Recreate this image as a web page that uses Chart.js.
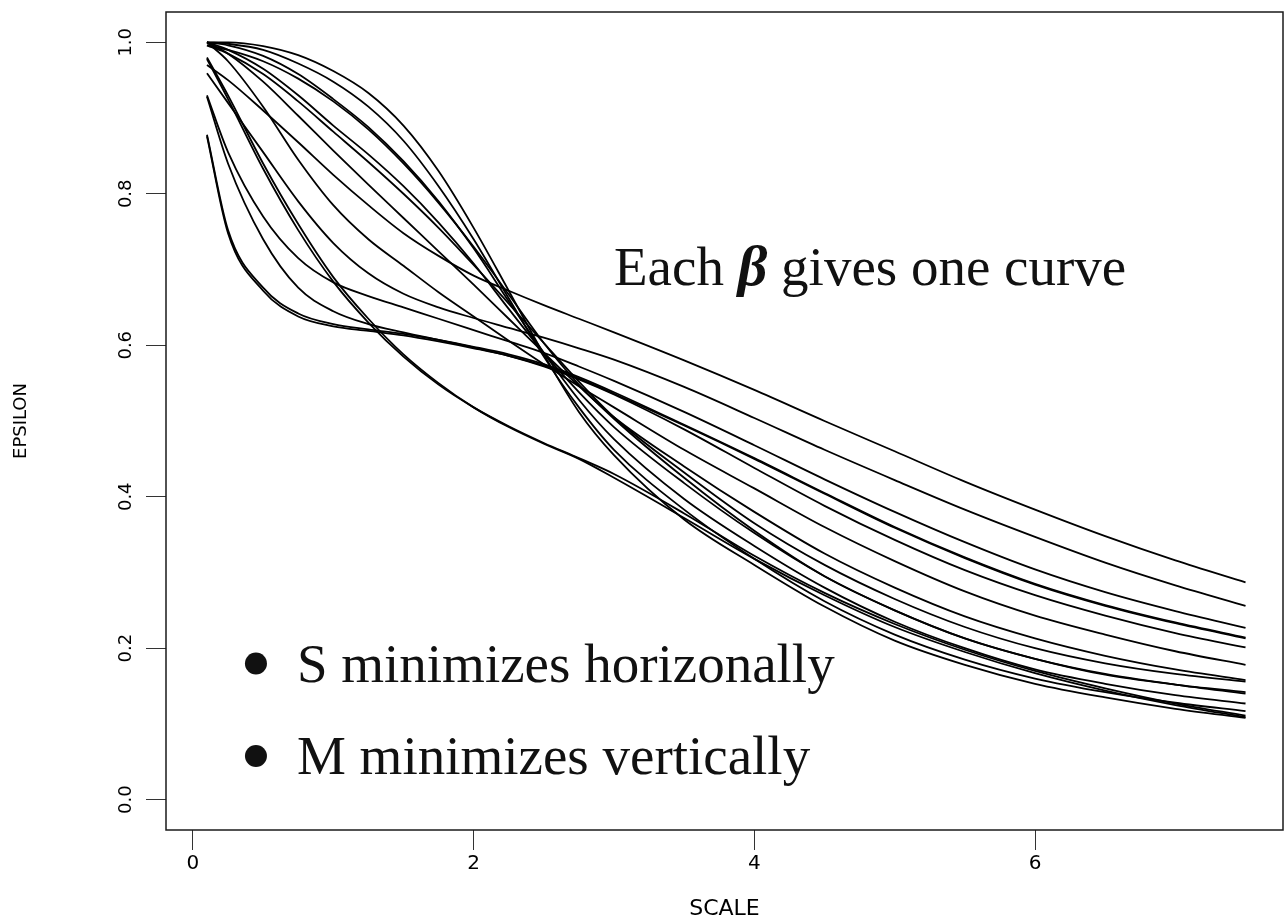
<!DOCTYPE html>
<html>
<head>
<meta charset="utf-8">
<script src="https://cdn.jsdelivr.net/npm/chart.js@4.4.1/dist/chart.umd.min.js"></script>
<style>
  html, body { margin: 0; padding: 0; background: #fff; }
  canvas { display: block; }
</style>
</head>
<body>
<canvas id="epsChart" width="1285" height="923"></canvas>
<script>
// === EPSILON vs SCALE, one curve per beta ===

// scale values where every curve is sampled
var scaleGrid = [0.1, 0.25, 0.5, 0.75, 1, 1.25, 1.5, 1.75, 2, 2.25, 2.5, 2.75, 3, 3.5, 4, 4.5, 5, 5.5, 6, 6.5, 7, 7.5];

// curves that drop early and stay lowest
var epsA1  = [0.980, 0.930, 0.840, 0.760, 0.690, 0.635, 0.588, 0.550, 0.518, 0.492, 0.470, 0.450, 0.425, 0.372, 0.318, 0.270, 0.228, 0.195, 0.167, 0.144, 0.125, 0.109];
var epsA2  = [0.978, 0.925, 0.833, 0.752, 0.684, 0.630, 0.585, 0.548, 0.518, 0.493, 0.471, 0.451, 0.430, 0.378, 0.322, 0.273, 0.232, 0.198, 0.170, 0.147, 0.127, 0.111];
// curves starting near 1 with a shoulder, steep fall around scale 2-3
var epsA3  = [1.000, 0.975, 0.915, 0.845, 0.785, 0.740, 0.705, 0.670, 0.638, 0.606, 0.575, 0.546, 0.518, 0.462, 0.411, 0.360, 0.315, 0.275, 0.243, 0.218, 0.196, 0.178];
var epsA4  = [1.000, 0.985, 0.948, 0.903, 0.857, 0.812, 0.768, 0.724, 0.680, 0.635, 0.590, 0.546, 0.505, 0.440, 0.380, 0.325, 0.280, 0.242, 0.213, 0.190, 0.172, 0.158];
var epsA5  = [0.996, 0.985, 0.958, 0.922, 0.882, 0.842, 0.800, 0.755, 0.706, 0.655, 0.603, 0.552, 0.505, 0.432, 0.365, 0.310, 0.265, 0.228, 0.200, 0.180, 0.166, 0.156];
var epsA6  = [1.000, 0.990, 0.965, 0.930, 0.890, 0.852, 0.810, 0.762, 0.708, 0.648, 0.590, 0.538, 0.492, 0.418, 0.352, 0.295, 0.250, 0.213, 0.186, 0.165, 0.152, 0.142];
var epsA7  = [0.996, 0.990, 0.975, 0.952, 0.922, 0.885, 0.840, 0.788, 0.730, 0.667, 0.603, 0.548, 0.503, 0.425, 0.355, 0.295, 0.250, 0.213, 0.186, 0.166, 0.152, 0.140];
var epsA8  = [1.000, 0.996, 0.982, 0.958, 0.925, 0.888, 0.843, 0.790, 0.728, 0.658, 0.590, 0.528, 0.476, 0.397, 0.335, 0.280, 0.235, 0.200, 0.172, 0.153, 0.138, 0.127];
var epsA9  = [1.000, 0.998, 0.990, 0.972, 0.948, 0.915, 0.870, 0.810, 0.740, 0.662, 0.585, 0.518, 0.462, 0.383, 0.318, 0.262, 0.218, 0.185, 0.160, 0.142, 0.128, 0.117];
var epsA10 = [1.000, 1.000, 0.995, 0.983, 0.962, 0.933, 0.890, 0.830, 0.755, 0.672, 0.588, 0.512, 0.455, 0.370, 0.310, 0.255, 0.210, 0.178, 0.153, 0.135, 0.120, 0.108];
// curves with a plateau near 0.6
var epsB1  = [0.878, 0.752, 0.676, 0.642, 0.628, 0.621, 0.615, 0.607, 0.598, 0.588, 0.575, 0.558, 0.538, 0.495, 0.451, 0.405, 0.360, 0.320, 0.285, 0.257, 0.234, 0.214];
var epsB2  = [0.876, 0.748, 0.672, 0.638, 0.625, 0.619, 0.613, 0.605, 0.596, 0.586, 0.573, 0.556, 0.536, 0.494, 0.450, 0.404, 0.359, 0.319, 0.284, 0.256, 0.233, 0.213];
var epsB3  = [0.930, 0.855, 0.770, 0.715, 0.683, 0.665, 0.650, 0.635, 0.620, 0.605, 0.590, 0.572, 0.553, 0.512, 0.468, 0.423, 0.380, 0.340, 0.304, 0.274, 0.249, 0.227];
var epsB4  = [0.928, 0.840, 0.740, 0.676, 0.645, 0.628, 0.617, 0.607, 0.597, 0.586, 0.572, 0.555, 0.535, 0.489, 0.438, 0.388, 0.343, 0.303, 0.270, 0.243, 0.220, 0.201];
// slow, nearly straight decline, highest tails
var epsC1  = [0.970, 0.950, 0.910, 0.868, 0.825, 0.785, 0.748, 0.718, 0.692, 0.672, 0.653, 0.635, 0.617, 0.580, 0.541, 0.500, 0.460, 0.420, 0.383, 0.348, 0.316, 0.287];
var epsC2  = [0.959, 0.920, 0.855, 0.790, 0.735, 0.695, 0.668, 0.650, 0.636, 0.623, 0.610, 0.596, 0.581, 0.545, 0.504, 0.462, 0.422, 0.383, 0.347, 0.313, 0.283, 0.256];

var curves = [epsA1, epsA2, epsA3, epsA4, epsA5, epsA6, epsA7, epsA8, epsA9, epsA10,
              epsB1, epsB2, epsB3, epsB4, epsC1, epsC2];

// annotation texts (data coordinates)
var noteTitle = ['Each ', '\u03B2', ' gives one curve'];
var noteTitleAt = [3.0, 0.679];
var bulletTexts = ['S minimizes horizonally', 'M minimizes vertically'];
var bulletDotX = 0.449;
var bulletTextX = 0.741;
var bulletBaselines = [0.156, 0.034];

var AXIS_FONT = 'DejaVu Sans';
var SERIF = '"Liberation Serif", "Times New Roman", serif';

var notesPlugin = {
  id: 'notes',
  afterDraw: function(chart) {
    var ctx = chart.ctx;
    var a = chart.chartArea;
    var xs = chart.scales.x, ys = chart.scales.y;

    ctx.save();
    // plot frame
    ctx.strokeStyle = '#1a1a1a';
    ctx.lineWidth = 1.5;
    ctx.strokeRect(a.left, a.top, a.right - a.left, a.bottom - a.top);

    ctx.fillStyle = '#111';
    ctx.textBaseline = 'alphabetic';
    ctx.textAlign = 'left';

    // "Each beta gives one curve"
    var x = xs.getPixelForValue(noteTitleAt[0]);
    var y = ys.getPixelForValue(noteTitleAt[1]);
    ctx.font = '55px ' + SERIF;
    ctx.fillText(noteTitle[0], x, y);
    x += ctx.measureText(noteTitle[0]).width;
    ctx.font = 'italic bold 58px ' + SERIF;
    ctx.fillText(noteTitle[1], x, y);
    x += ctx.measureText(noteTitle[1]).width;
    ctx.font = '55px ' + SERIF;
    ctx.fillText(noteTitle[2], x, y);

    // bullet lines
    bulletTexts.forEach(function(t, i) {
      var by = ys.getPixelForValue(bulletBaselines[i]);
      ctx.beginPath();
      ctx.arc(xs.getPixelForValue(bulletDotX), by - 18, 11, 0, Math.PI * 2);
      ctx.fill();
      ctx.font = '55px ' + SERIF;
      ctx.fillText(t, xs.getPixelForValue(bulletTextX), by);
    });
    ctx.restore();
  }
};

var datasets = curves.map(function(ys) {
  return {
    data: ys.map(function(v, i) { return { x: scaleGrid[i], y: v }; }),
    borderColor: '#000',
    borderWidth: 1.8,
    pointRadius: 0,
    fill: false,
    cubicInterpolationMode: 'monotone'
  };
});

new Chart(document.getElementById('epsChart'), {
  type: 'line',
  data: { datasets: datasets },
  options: {
    responsive: false,
    animation: false,
    devicePixelRatio: 1,
    layout: { padding: { top: 12, right: 2, left: 0, bottom: 0 } },
    plugins: {
      legend: { display: false },
      tooltip: { enabled: false }
    },
    scales: {
      x: {
        type: 'linear',
        min: -0.192,
        max: 7.767,
        afterFit: function(s) { s.height = 93; s.paddingLeft = 0; s.paddingRight = 0; },
        border: { display: false },
        grid: { drawOnChartArea: false, drawTicks: true, tickLength: 20, color: '#333' },
        ticks: {
          stepSize: 2,
          includeBounds: false,
          autoSkip: false,
          maxRotation: 0,
          padding: 2,
          color: '#000',
          font: { family: AXIS_FONT, size: 20 },
          callback: function(v) { return String(Math.round(v)); }
        },
        title: {
          display: true,
          text: 'SCALE',
          color: '#000',
          font: { family: AXIS_FONT, size: 22 },
          padding: { top: 0, bottom: 1 }
        }
      },
      y: {
        type: 'linear',
        min: -0.04,
        max: 1.04,
        afterFit: function(s) { s.width = 166; s.paddingTop = 0; s.paddingBottom = 0; },
        border: { display: false },
        grid: { drawOnChartArea: false, drawTicks: true, tickLength: 20, color: '#333' },
        ticks: {
          stepSize: 0.2,
          includeBounds: false,
          minRotation: 90,
          maxRotation: 90,
          crossAlign: 'center',
          padding: 5,
          color: '#000',
          font: { family: AXIS_FONT, size: 18 },
          callback: function(v) { return v.toFixed(1); }
        },
        title: {
          display: true,
          text: 'EPSILON',
          color: '#000',
          font: { family: AXIS_FONT, size: 18 },
          padding: { top: 11, bottom: 0 }
        }
      }
    }
  },
  plugins: [notesPlugin]
});
</script>
</body>
</html>
